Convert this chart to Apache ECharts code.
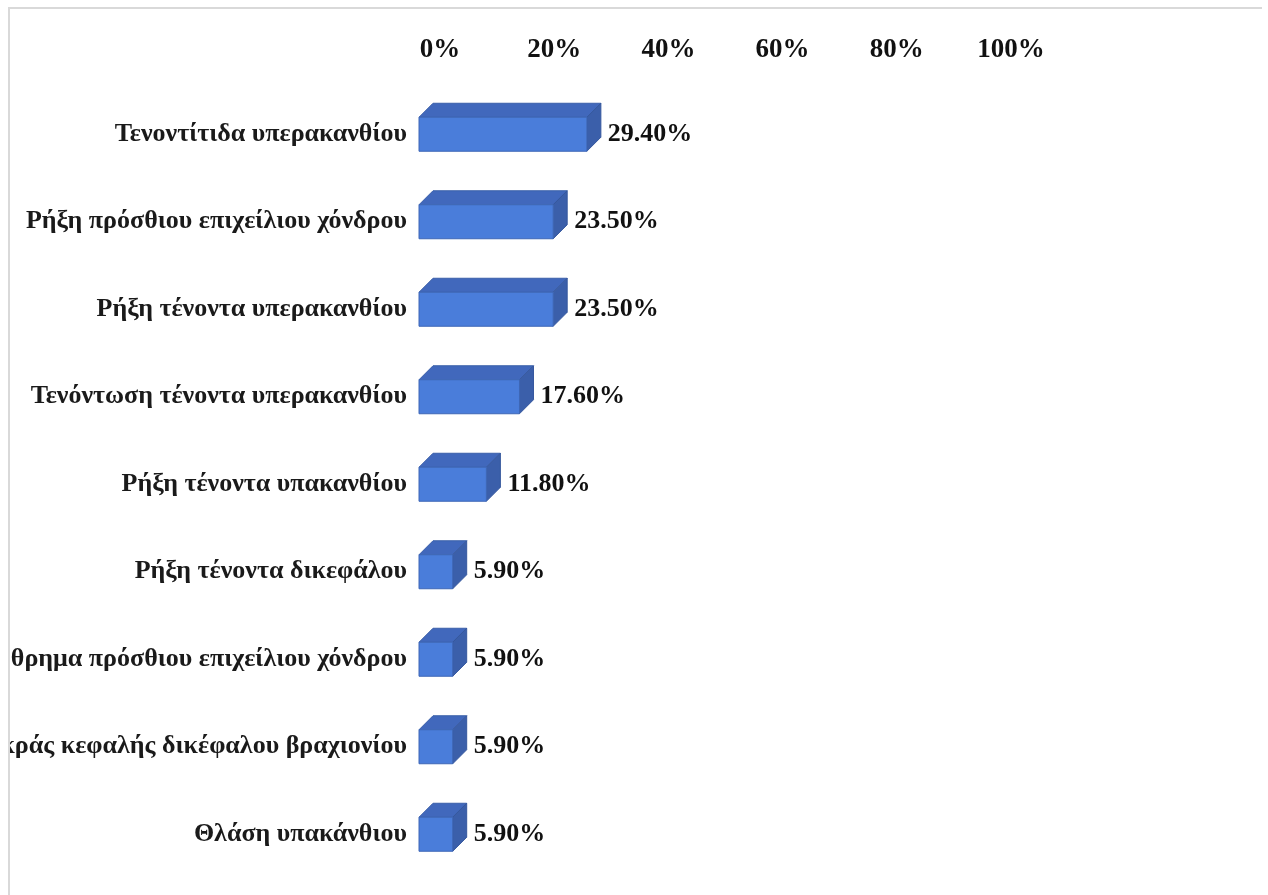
<!DOCTYPE html>
<html>
<head>
<meta charset="utf-8">
<script src="https://cdn.jsdelivr.net/npm/echarts@6/dist/echarts.min.js"></script>
<style>
  html, body { margin: 0; padding: 0; background: #ffffff; }
  #frame {
    position: absolute; left: 8px; top: 7px; width: 1252px; height: 888px;
    border-top: 2px solid #d9d9d9; border-left: 2px solid #d9d9d9;
    overflow: hidden;
  }
  #chart { position: absolute; left: 0; top: 0; width: 1252px; height: 886px; }
</style>
</head>
<body>
<div id="frame"><div id="chart"></div></div>
<script>
// Shoulder findings, share of cases (%)
const categories = [
  'Τενοντίτιδα υπερακανθίου',
  'Ρήξη πρόσθιου επιχείλιου χόνδρου',
  'Ρήξη τένοντα υπερακανθίου',
  'Τενόντωση τένοντα υπερακανθίου',
  'Ρήξη τένοντα υπακανθίου',
  'Ρήξη τένοντα δικεφάλου',
  'Εξάρθρημα πρόσθιου επιχείλιου χόνδρου',
  'Ρήξη μακράς κεφαλής δικέφαλου βραχιονίου',
  'Θλάση υπακάνθιου'
];
const values = [29.4, 23.5, 23.5, 17.6, 11.8, 5.9, 5.9, 5.9, 5.9];
const tickLabels = ['0%', '20%', '40%', '60%', '80%', '100%'];

const serif = '"Liberation Serif", "DejaVu Serif", serif';
const DEPTH = 14;          // 3D extrusion offset in px
const BAR_RATIO = 34 / 87.5;

const chart = echarts.init(document.getElementById('chart'), null, { renderer: 'canvas' });

chart.setOption({
  animation: false,
  backgroundColor: '#ffffff',
  grid: {
    left: 409, right: 272, top: 81.5, bottom: 17,
    containLabel: false, outerBoundsMode: 'none'
  },
  xAxis: {
    type: 'value', position: 'top', min: 0, max: 100, interval: 20,
    axisLine: { show: false }, axisTick: { show: false }, splitLine: { show: false },
    axisLabel: {
      margin: 27,
      padding: [0, 0, 0, 42],
      fontFamily: serif, fontWeight: 'bold', fontSize: 27, color: '#111111',
      formatter: (v) => tickLabels[Math.round(v / 20)]
    }
  },
  yAxis: {
    type: 'category', data: categories, inverse: true,
    axisLine: { show: false }, axisTick: { show: false }, splitLine: { show: false },
    axisLabel: {
      margin: 12,
      fontFamily: serif, fontWeight: 'bold', fontSize: 26, color: '#1a1a1a'
    }
  },
  series: [{
    type: 'custom',
    data: values.map((v, i) => [v, i]),
    encode: { x: 0, y: 1 },
    renderItem: function (params, api) {
      const v = api.value(0);
      const cat = api.value(1);
      const p0 = api.coord([0, cat]);
      const p1 = api.coord([v, cat]);
      const h = api.size([0, 1])[1] * BAR_RATIO;
      const x0 = p0[0], x1 = p1[0];
      const y0 = p0[1] - h / 2, y1 = p0[1] + h / 2;
      const d = DEPTH;
      return {
        type: 'group',
        children: [
          {
            type: 'polygon',
            shape: { points: [[x0, y0], [x0 + d, y0 - d], [x1 + d, y0 - d], [x1, y0]] },
            style: { fill: '#4168BC', stroke: '#3a5fa9', lineWidth: 1 }
          },
          {
            type: 'polygon',
            shape: { points: [[x1, y0], [x1 + d, y0 - d], [x1 + d, y1 - d], [x1, y1]] },
            style: { fill: '#3B5FAA', stroke: '#36589e', lineWidth: 1 }
          },
          {
            type: 'rect',
            shape: { x: x0, y: y0, width: x1 - x0, height: h },
            style: { fill: '#4A7DDA', stroke: '#3e67b6', lineWidth: 1 }
          },
          {
            type: 'text',
            style: {
              x: x1 + d + 7, y: p0[1],
              text: v.toFixed(2) + '%',
              fontFamily: serif, fontWeight: 'bold', fontSize: 26,
              fill: '#111111', align: 'left', verticalAlign: 'middle'
            }
          }
        ]
      };
    }
  }]
});
</script>
</body>
</html>
